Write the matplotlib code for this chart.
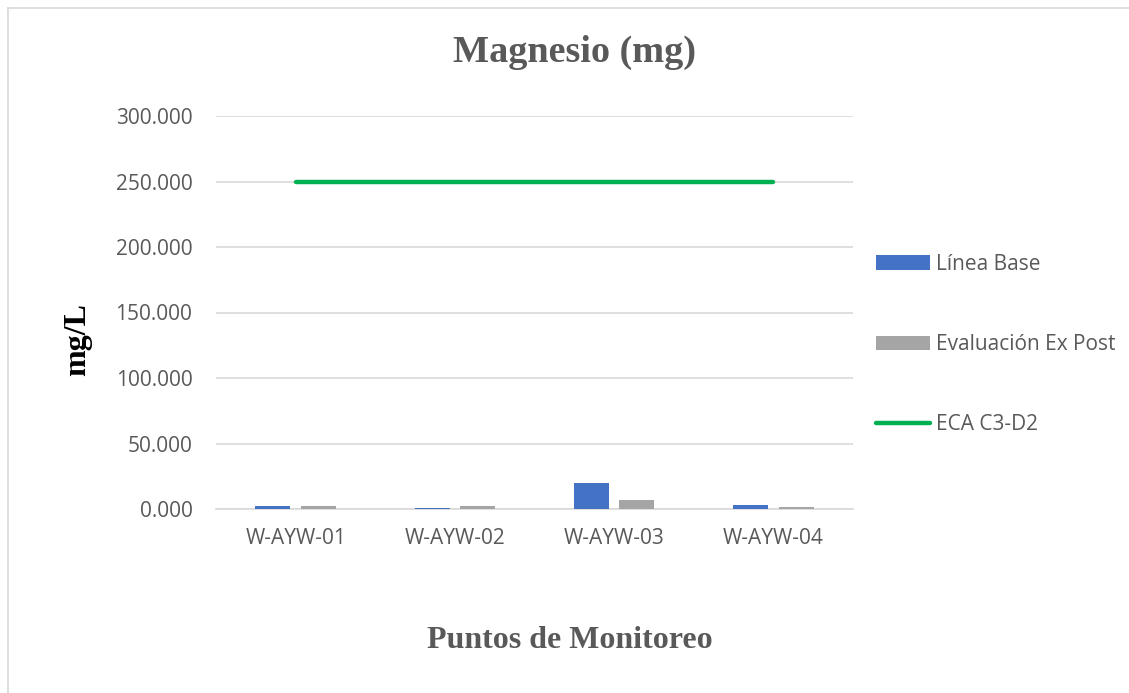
import matplotlib
matplotlib.use("Agg")
import matplotlib.pyplot as plt
from matplotlib.lines import Line2D
from matplotlib.ticker import FuncFormatter
import numpy as np

categories = ["W-AYW-01", "W-AYW-02", "W-AYW-03", "W-AYW-04"]
linea_base = [2.5, 0.7, 19.5, 3.3]
ex_post = [2.0, 2.0, 6.6, 1.5]
eca = [250, 250, 250, 250]
yticks = [0, 50, 100, 150, 200, 250, 300]

W, H = 1129, 693
fig = plt.figure(figsize=(W / 100, H / 100), dpi=100)
# chart-area border (left and top visible)
fig.lines.append(Line2D([8 / W, 8 / W], [0, 1 - 8 / H], transform=fig.transFigure,
                        color="#D9D9D9", linewidth=1.2))
fig.lines.append(Line2D([8 / W, 1], [1 - 8 / H, 1 - 8 / H], transform=fig.transFigure,
                        color="#D9D9D9", linewidth=1.2))

ax = fig.add_axes([216 / W, 1 - 509 / H, (853 - 216) / W, (509 - 116) / H])
x = np.arange(len(categories))
bw = 0.22
off = 0.143
b1 = ax.bar(x - off, linea_base, bw, color="#4472C4", label="Línea Base", zorder=3)
b2 = ax.bar(x + off, ex_post, bw, color="#A5A5A5", label="Evaluación Ex Post", zorder=3)
l1, = ax.plot(x, eca, color="#00B050", linewidth=3.2, solid_capstyle="round",
              label="ECA C3-D2", zorder=4)

ax.set_xlim(-0.5, 3.5)
ax.set_ylim(0, 300)
ax.set_yticks(yticks)
ax.yaxis.set_major_formatter(FuncFormatter(lambda v, p: f"{v:.3f}"))
ax.set_xticks(x)
ax.set_xticklabels(categories)
ax.grid(axis="y", color="#D9D9D9", linewidth=1.2, zorder=0)
for s in ["top", "right", "left"]:
    ax.spines[s].set_visible(False)
ax.spines["bottom"].set_color("#D9D9D9")
ax.spines["bottom"].set_linewidth(1.2)
ax.tick_params(axis="both", length=0, labelsize=15, labelcolor="#595959")
ax.tick_params(axis="x", pad=14)
ax.tick_params(axis="y", pad=17)
for lab in ax.get_xticklabels() + ax.get_yticklabels():
    lab.set_fontfamily("Open Sans")

fig.text(574 / W, 1 - 52 / H, "Magnesio (mg)", ha="center", va="center",
         fontfamily="Liberation Serif", fontweight="bold", fontsize=27.5, color="#595959")
fig.text(78 / W, 1 - 340 / H, "mg/L", ha="center", va="center", rotation=90,
         fontfamily="Liberation Serif", fontweight="bold", fontsize=23, color="#000000")
fig.text(570 / W, 1 - 640 / H, "Puntos de Monitoreo", ha="center", va="center",
         fontfamily="Liberation Serif", fontweight="bold", fontsize=23, color="#595959")

leg = fig.legend(handles=[b1, b2, l1], loc="upper left", bbox_to_anchor=(857 / W, 1 - 235 / H),
                 frameon=False, labelspacing=2.85, handlelength=2.6, handletextpad=0.3,
                 handleheight=0.67, labelcolor="#595959", prop={"family": "Open Sans", "size": 15})
fig.savefig("out.png", dpi=100)
